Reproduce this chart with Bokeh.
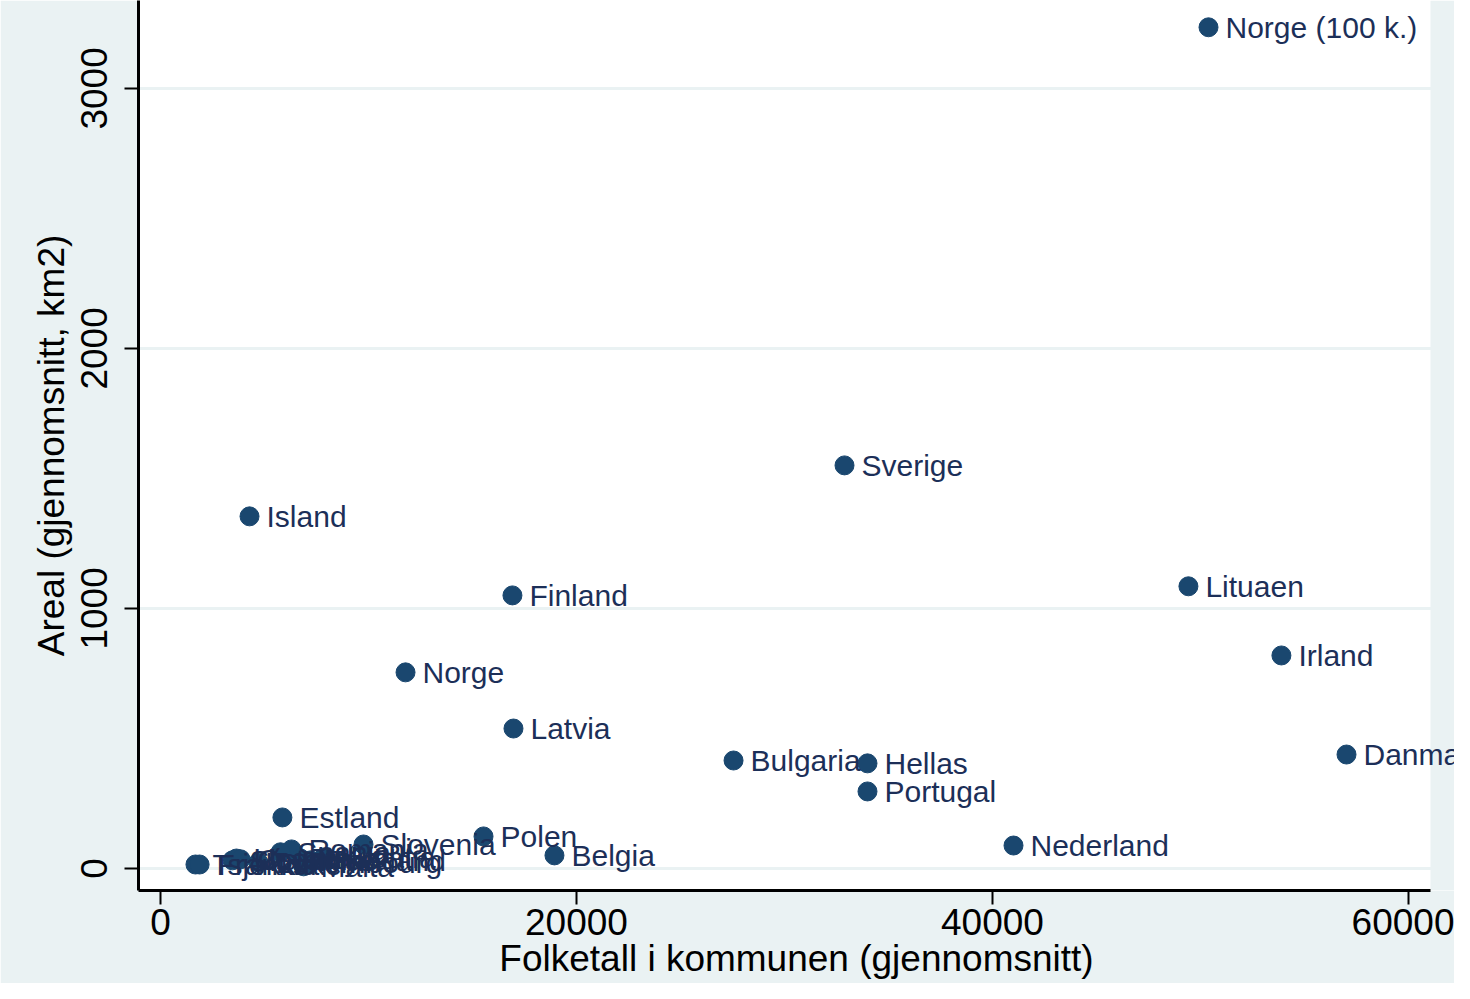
from bokeh.plotting import figure
from bokeh.models import ColumnDataSource, Range1d, FixedTicker, LabelSet, BoxAnnotation
from bokeh.core.properties import value
from bokeh.embed import file_html
from bokeh.resources import INLINE

# Data
countries = ["Norge (100 k.)", "Sverige", "Island", "Finland", "Lituaen", "Irland",
             "Norge", "Latvia", "Bulgaria", "Hellas", "Danmark", "Portugal",
             "Estland", "Polen", "Nederland", "Belgia", "Slovenia", "Romania",
             "Tsjekkia", "Frankrike", "Slovakia", "Ungarn", "Østerrike", "Luxembourg",
             "Spania", "Italia", "Tyskland", "Malta", "Kroatia"]
folketall = [50385, 32885, 4280, 16920, 49420, 53890,
             11780, 16970, 27550, 33990, 57020, 33990,
             5860, 15530, 41010, 18940, 9760, 6300,
             1680, 1880, 3460, 3650, 3850, 4710,
             5770, 6730, 7210, 6880, 7840]
areal = [3235, 1550, 1354, 1050, 1085, 819,
         754, 538, 415, 404, 438, 296,
         196, 123, 88, 50, 92, 73,
         15, 15, 31, 38, 35, 23,
         62, 38, 31, 8, 42]
x_ticks = [0, 20000, 40000, 60000]
y_ticks = [0, 1000, 2000, 3000]

BG = "#eaf2f3"
NAVY = "#1a476f"
LABEL = "#1c2f58"
FONT = "Liberation Sans"

X0, X_PLOT_END, X_CANVAS_END = -1058, 61058, 62212

src = ColumnDataSource(dict(x=folketall, y=areal, name=countries))

p = figure(width=1454, height=983, output_backend="svg", toolbar_location=None,
           x_range=Range1d(X0, X_CANVAS_END), y_range=Range1d(-85, 3338),
           min_border_left=138, min_border_right=0, min_border_top=0,
           min_border_bottom=93)
p.background_fill_color = "white"
p.border_fill_color = BG
p.outline_line_color = None

# light strip right of the plot region (label text may run over it)
p.add_layout(BoxAnnotation(left=X_PLOT_END, fill_color=BG, fill_alpha=1,
                           line_color=None, level="underlay"))

p.xgrid.visible = False
p.ygrid.ticker = FixedTicker(ticks=y_ticks)
p.ygrid.grid_line_color = BG
p.ygrid.grid_line_width = 3

for ax in (p.xaxis[0], p.yaxis[0]):
    ax.axis_line_color = "black"
    ax.axis_line_width = 3
    ax.major_tick_line_color = "black"
    ax.major_tick_line_width = 2
    ax.major_tick_out = 14
    ax.major_tick_in = 0
    ax.minor_tick_line_color = None
    ax.major_label_text_font = FONT
    ax.major_label_text_font_size = "37px"
    ax.major_label_text_color = "black"
    ax.axis_label_text_font = FONT
    ax.axis_label_text_font_size = "37px"
    ax.axis_label_text_font_style = "normal"
    ax.axis_label_text_color = "black"

p.xaxis.bounds = (X0, X_PLOT_END)
p.xaxis.ticker = FixedTicker(ticks=x_ticks)
p.yaxis.ticker = FixedTicker(ticks=y_ticks)
p.xaxis.axis_label = "Folketall i kommunen (gjennomsnitt)"
p.yaxis.axis_label = "Areal (gjennomsnitt, km2)"
p.xaxis.major_label_standoff = 4
p.yaxis.major_label_standoff = 17
p.yaxis.major_label_orientation = "vertical"
p.xaxis.axis_label_standoff = 0
p.yaxis.axis_label_standoff = 7

p.scatter("x", "y", source=src, size=19, fill_color=NAVY, line_color=NAVY)
labels = LabelSet(x="x", y="y", text="name", source=src, x_offset=17,
                  text_baseline="middle", text_align="left", text_font=value(FONT),
                  text_font_size="30px", text_color=LABEL)
p.add_layout(labels)

open("out.html", "w").write(file_html(p, INLINE))
